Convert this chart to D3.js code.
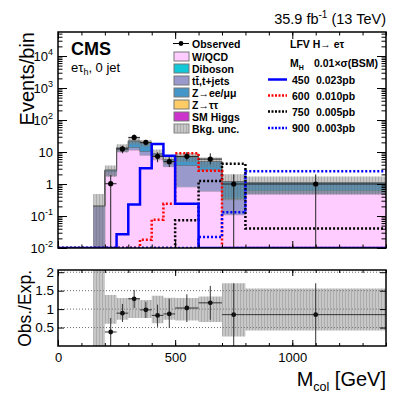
<!DOCTYPE html>
<html>
<head>
<meta charset="utf-8">
<script src="https://cdn.jsdelivr.net/npm/d3@7"></script>
<style>
  body { margin: 0; background: #fff; }
  svg { font-family: "Liberation Sans", Arial, Helvetica, sans-serif; }
</style>
</head>
<body>
<svg width="407" height="395"></svg>
<script>
// bins in M_col [GeV]
var binEdges = [150, 200, 250, 300, 350, 400, 450, 500, 600, 700, 800, 1400];

// backgrounds (events/bin), stacked bottom -> top
var wqcd    = [0,     1.85, 10.5, 11.6, 8.0,  7.2,  3.5,  0.82, 0.6,  0.11, 0.5];
var ttbar   = [0.2,   0.6,  1.5,  2.4,  2.5,  0.8,  1.5,  3.0,  2.2,  0.24, 0.13];
var diboson = [0.004, 0.02, 0.05, 0.08, 0.08, 0.05, 0.04, 0.06, 0.05, 0.02, 0.02];
var zll     = [0,     0.25, 1.4,  8.0,  8.5,  0.8,  0.7,  3.2,  2.2,  0.82, 0.45];
var ztt     = [0,     0.01, 0.03, 0.05, 0.04, 0.02, 0.02, 0.02, 0.01, 0.005, 0.005];
var smh     = [0,     0.005,0.01, 0.02, 0.02, 0.01, 0.01, 0.01, 0.005, 0.002, 0.002];

// relative background uncertainty (lo / hi, as fraction of total)
var uncLo = [0,   0.60, 0.71, 0.76, 0.76, 0.62, 0.71, 0.69, 0.65, 0.26, 0.42];
var uncHi = [2.4, 1.38, 1.30, 1.30, 1.25, 1.36, 1.31, 1.30, 1.34, 1.70, 1.56];

// signals, 0.01 x sigma(BSM)
var sig450 = [0, 0, 0.027, 0.23, 3.1, 17.8, 7.7, 0.24, 0, 0, 0];
var sig600 = [0, 0, 0, 0, 0.018, 0.077, 0.24, 9.1, 2.6, 0, 0];
var sig750 = [0, 0, 0, 0, 0, 0, 0, 0.074, 1.23, 4.3, 0.041];
var sig900 = [0, 0, 0, 0, 0, 0, 0, 0, 0.022, 0.13, 2.5];

// observed
var obsX   = [225, 275, 325, 375, 425, 475, 550, 650, 750, 1100];
var obsXlo = [200, 250, 300, 350, 400, 450, 500, 600, 700, 800];
var obsXhi = [250, 300, 350, 400, 450, 500, 600, 700, 800, 1400];
var obsY   = [1.02, 12.5, 28.6, 20, 7.3, 5.0, 7.3, 6.0, 1.0, 1.0];
var obsLo  = [0.01, 9.1, 23, 16, 4.8, 3.4, 5.4, 4.1, 0.01, 0.01];
var obsHi  = [1.9, 15.8, 35, 24, 9.8, 6.9, 10, 9.1, 2.0, 2.0];

// ratio
var ratioY  = [0.38, 0.89, 1.28, 0.98, 0.83, 0.87, 1.03, 1.17, 0.85, 0.85];
var ratioLo = [0, 0.65, 1.03, 0.76, 0.52, 0.49, 0.65, 0.71, 0, 0];
var ratioHi = [0.76, 1.14, 1.52, 1.20, 1.12, 1.28, 1.40, 1.63, 1.70, 1.70];

var yTicks = [1e-2, 1e-1, 1, 10, 1e2, 1e3, 1e4];
var xTicks = [0, 500, 1000];
var ratioTicks = [0.5, 1, 1.5, 2];

var bkgKeys   = ["wqcd", "tt", "vv", "zll", "ztt", "smh"];
var bkgColors = { wqcd: "#ffccff", tt: "#9999cc", vv: "#12c8d6", zll: "#4496c8", ztt: "#ffcc66", smh: "#cc33cc" };

var svg = d3.select("svg");
var L = 58, R = 386, T = 32, B = 248, RT = 270, RB = 346;

var x = d3.scaleLinear().domain([0, 1400]).range([L, R]);
var y = d3.scaleLog().domain([0.01, Math.pow(10, 4.75)]).range([B, T]).clamp(true);
var yr = d3.scaleLinear().domain([0, 2.06]).range([RB, RT]).clamp(true);

var defs = svg.append("defs");
var pat = defs.append("pattern").attr("id", "hatch").attr("patternUnits", "userSpaceOnUse")
  .attr("width", 3).attr("height", 3);
pat.append("rect").attr("width", 3).attr("height", 3).attr("fill", "rgba(130,130,130,0.45)");
pat.append("line").attr("x1", 0.5).attr("x2", 0.5).attr("y1", 0).attr("y2", 3)
  .attr("stroke", "rgba(90,90,90,0.25)").attr("stroke-width", 1);
defs.append("clipPath").attr("id", "clipTop").append("rect")
  .attr("x", L).attr("y", T).attr("width", R - L).attr("height", B - T);
defs.append("clipPath").attr("id", "clipBot").append("rect")
  .attr("x", L).attr("y", RT).attr("width", R - L).attr("height", RB - RT);

// ---------- upper panel ----------
var rows = binEdges.slice(0, -1).map(function(e, i) {
  return { edge: e, wqcd: wqcd[i], tt: ttbar[i], vv: diboson[i], zll: zll[i], ztt: ztt[i], smh: smh[i] };
});
var stack = d3.stack().keys(bkgKeys)(rows);

function stepPts(vals) {
  var p = vals.map(function(v, i) { return { x: binEdges[i], v: v }; });
  p.push({ x: binEdges[binEdges.length - 1], v: vals[vals.length - 1] });
  return p;
}

var gTop = svg.append("g").attr("clip-path", "url(#clipTop)");

var area = d3.area().curve(d3.curveStepAfter)
  .x(function(d) { return x(d.x); })
  .y0(function(d) { return y(Math.max(d.lo, 0.01)); })
  .y1(function(d) { return y(Math.max(d.hi, 0.01)); });
var topLine = d3.line().curve(d3.curveStepAfter)
  .x(function(d) { return x(d.x); })
  .y(function(d) { return y(Math.max(d.hi, 0.01)); });

stack.forEach(function(s) {
  var pts = s.map(function(d, i) { return { x: binEdges[i], lo: d[0], hi: d[1] }; });
  pts.push({ x: binEdges[binEdges.length - 1], lo: pts[pts.length - 1].lo, hi: pts[pts.length - 1].hi });
  gTop.append("path").attr("d", area(pts)).attr("fill", bkgColors[s.key]);
  gTop.append("path").attr("d", topLine(pts)).attr("fill", "none")
    .attr("stroke", "#555").attr("stroke-width", 0.8).attr("stroke-opacity", 0.7);
});

// uncertainty band
var total = rows.map(function(r) { return r.wqcd + r.tt + r.vv + r.zll + r.ztt + r.smh; });
var uncPts = total.map(function(t, i) { return { x: binEdges[i], lo: t * uncLo[i], hi: t * uncHi[i] }; });
uncPts.push({ x: 1400, lo: uncPts[uncPts.length - 1].lo, hi: uncPts[uncPts.length - 1].hi });
gTop.append("path").attr("d", area(uncPts)).attr("fill", "url(#hatch)");

// signals
var sigLine = d3.line().curve(d3.curveStepAfter)
  .x(function(d) { return x(d.x); })
  .y(function(d) { return y(Math.max(d.v, 0.01)); });
function sigPts(vals) { return [{ x: 0, v: 0 }].concat(stepPts(vals)); }
var signals = [
  { vals: sig750, color: "#000", dash: "2,2" },
  { vals: sig600, color: "#ff0000", dash: "2,2" },
  { vals: sig450, color: "#0000ff", dash: null },
  { vals: sig900, color: "#0000ff", dash: "2,2" }
];
signals.forEach(function(s) {
  gTop.append("path").attr("d", sigLine(sigPts(s.vals))).attr("fill", "none")
    .attr("stroke", s.color).attr("stroke-width", 2.5)
    .attr("stroke-dasharray", s.dash);
});

// observed
var obs = gTop.append("g");
obsX.forEach(function(v, i) {
  obs.append("line").attr("x1", x(obsXlo[i])).attr("x2", x(obsXhi[i]))
    .attr("y1", y(obsY[i])).attr("y2", y(obsY[i])).attr("stroke", "#222").attr("stroke-width", 1);
  obs.append("line").attr("x1", x(v)).attr("x2", x(v))
    .attr("y1", y(obsLo[i])).attr("y2", y(obsHi[i])).attr("stroke", "#222").attr("stroke-width", 1);
  obs.append("circle").attr("cx", x(v)).attr("cy", y(obsY[i])).attr("r", 2.6).attr("fill", "#000");
});

// axes upper
var minorY = [];
for (var e = -2; e <= 4; e++) for (var m = 2; m <= 9; m++) {
  var mv = m * Math.pow(10, e); if (mv < Math.pow(10, 4.75)) minorY.push(mv);
}
var minorX = d3.range(0, 1401, 100);

function styleAxis(g) { g.select(".domain").remove(); g.selectAll("line").attr("stroke", "#000"); }

svg.append("g").attr("transform", "translate(" + L + ",0)")
  .call(d3.axisLeft(y).tickValues(yTicks).tickSize(-9).tickFormat(""))
  .call(styleAxis);
svg.append("g").attr("transform", "translate(" + L + ",0)")
  .call(d3.axisLeft(y).tickValues(minorY).tickSize(-4.5).tickFormat(""))
  .call(styleAxis);
svg.append("g").attr("transform", "translate(" + R + ",0)")
  .call(d3.axisRight(y).tickValues(yTicks).tickSize(-9).tickFormat(""))
  .call(styleAxis);
svg.append("g").attr("transform", "translate(" + R + ",0)")
  .call(d3.axisRight(y).tickValues(minorY).tickSize(-4.5).tickFormat(""))
  .call(styleAxis);
[[B, d3.axisBottom], [T, d3.axisTop]].forEach(function(p) {
  svg.append("g").attr("transform", "translate(0," + p[0] + ")")
    .call(p[1](x).tickValues(xTicks).tickSize(-7).tickFormat("")).call(styleAxis);
  svg.append("g").attr("transform", "translate(0," + p[0] + ")")
    .call(p[1](x).tickValues(minorX).tickSize(-3.5).tickFormat("")).call(styleAxis);
});

// y tick labels with exponents
var yl = svg.append("g").attr("font-size", 13).attr("text-anchor", "end");
yTicks.forEach(function(t) {
  var ex = Math.round(Math.log10(t));
  var tx = yl.append("text").attr("x", L - 5).attr("y", y(t) + 5);
  if (ex === 0) tx.text("1");
  else if (ex === 1) tx.text("10");
  else {
    tx.append("tspan").text("10");
    tx.append("tspan").attr("font-size", 9).attr("dy", -6).text(ex);
  }
});

svg.append("rect").attr("x", L).attr("y", T).attr("width", R - L).attr("height", B - T)
  .attr("fill", "none").attr("stroke", "#000").attr("stroke-width", 1.5);

// ---------- ratio panel ----------
var bot = svg.append("g").attr("clip-path", "url(#clipBot)");
ratioTicks.forEach(function(t) {
  bot.append("line").attr("x1", L).attr("x2", R).attr("y1", yr(t)).attr("y2", yr(t))
    .attr("stroke", "#444").attr("stroke-width", 0.8).attr("stroke-dasharray", "1,2");
});
var rArea = d3.area().curve(d3.curveStepAfter)
  .x(function(d) { return x(d.x); })
  .y0(function(d) { return yr(d.lo); })
  .y1(function(d) { return yr(d.hi); });
var rBand = uncLo.map(function(v, i) { return { x: binEdges[i], lo: v, hi: uncHi[i] }; });
rBand.push({ x: 1400, lo: uncLo[uncLo.length - 1], hi: uncHi[uncHi.length - 1] });
bot.append("path").attr("d", rArea(rBand)).attr("fill", "url(#hatch)");

obsX.forEach(function(v, i) {
  bot.append("line").attr("x1", x(obsXlo[i])).attr("x2", x(obsXhi[i]))
    .attr("y1", yr(ratioY[i])).attr("y2", yr(ratioY[i])).attr("stroke", "#333").attr("stroke-width", 1);
  bot.append("line").attr("x1", x(v)).attr("x2", x(v))
    .attr("y1", yr(ratioLo[i])).attr("y2", yr(ratioHi[i])).attr("stroke", "#333").attr("stroke-width", 1);
  bot.append("circle").attr("cx", x(v)).attr("cy", yr(ratioY[i])).attr("r", 2.4).attr("fill", "#111");
});

svg.append("g").attr("transform", "translate(" + L + ",0)")
  .call(d3.axisLeft(yr).tickValues(ratioTicks).tickSize(-6).tickPadding(4).tickFormat(d3.format("")))
  .call(styleAxis)
  .call(function(g) { g.selectAll("text").attr("font-size", 13.5).attr("fill", "#000").attr("font-family", null); });
svg.append("g").attr("transform", "translate(" + R + ",0)")
  .call(d3.axisRight(yr).tickValues(ratioTicks).tickSize(-6).tickFormat(""))
  .call(styleAxis);
svg.append("g").attr("transform", "translate(0," + RB + ")")
  .call(d3.axisBottom(x).tickValues(xTicks).tickSize(-6).tickPadding(7).tickFormat(d3.format("")))
  .call(styleAxis)
  .call(function(g) { g.selectAll("text").attr("font-size", 13).attr("fill", "#000").attr("font-family", null); });
svg.append("g").attr("transform", "translate(0," + RB + ")")
  .call(d3.axisBottom(x).tickValues(minorX).tickSize(-3).tickFormat(""))
  .call(styleAxis);
svg.append("g").attr("transform", "translate(0," + RT + ")")
  .call(d3.axisTop(x).tickValues(xTicks).tickSize(-6).tickFormat(""))
  .call(styleAxis);
svg.append("g").attr("transform", "translate(0," + RT + ")")
  .call(d3.axisTop(x).tickValues(minorX).tickSize(-3).tickFormat(""))
  .call(styleAxis);

svg.append("rect").attr("x", L).attr("y", RT).attr("width", R - L).attr("height", RB - RT)
  .attr("fill", "none").attr("stroke", "#000").attr("stroke-width", 1.5);

// ---------- labels ----------
svg.append("text").attr("transform", "translate(34," + T + ") rotate(-90)")
  .attr("text-anchor", "end").attr("font-size", 20).text("Events/bin");
svg.append("text").attr("transform", "translate(31," + RT + ") rotate(-90)")
  .attr("text-anchor", "end").attr("font-size", 17.5).text("Obs./Exp.");

var xt = svg.append("text").attr("x", R).attr("y", 386).attr("text-anchor", "end").attr("font-size", 20);
xt.append("tspan").text("M");
xt.append("tspan").attr("font-size", 12.5).attr("dy", 5).text("col");
xt.append("tspan").attr("dy", -5).text(" [GeV]");

var lumi = svg.append("text").attr("x", R).attr("y", 24).attr("text-anchor", "end").attr("font-size", 14.5);
lumi.append("tspan").text("35.9 fb");
lumi.append("tspan").attr("font-size", 10).attr("dy", -6).text("-1");
lumi.append("tspan").attr("dy", 6).text(" (13 TeV)");

svg.append("text").attr("x", 71).attr("y", 55).attr("font-size", 18).attr("font-weight", "bold").text("CMS");
var ch = svg.append("text").attr("x", 71).attr("y", 72).attr("font-size", 13);
ch.append("tspan").text("e\u03c4");
ch.append("tspan").attr("font-size", 9).attr("dy", 3).text("h");
ch.append("tspan").attr("dy", -3).text(", 0 jet");

// legend, left column
var lg = svg.append("g").attr("font-size", 10.5).attr("font-weight", "bold");
var legY = [43.5, 56.5, 68.5, 80.5, 92.5, 104.5, 116.5, 128.5];
lg.append("line").attr("x1", 173).attr("x2", 189).attr("y1", legY[0]).attr("y2", legY[0]).attr("stroke", "#000");
lg.append("circle").attr("cx", 181).attr("cy", legY[0]).attr("r", 2.4).attr("fill", "#000");
lg.append("text").attr("x", 192).attr("y", legY[0] + 4).text("Observed");
var legOrder = ["wqcd", "vv", "tt", "zll", "ztt", "smh"];
var legLabels = { wqcd: "W/QCD", vv: "Diboson", tt: "tt\u0304,t+jets", zll: "Z\u2192ee/\u03bc\u03bc", ztt: "Z\u2192\u03c4\u03c4", smh: "SM Higgs" };
legOrder.forEach(function(k, i) {
  var yy = legY[i + 1];
  lg.append("rect").attr("x", 174).attr("y", yy - 4.5).attr("width", 15).attr("height", 9)
    .attr("fill", bkgColors[k]).attr("stroke", "#777").attr("stroke-width", 1);
  lg.append("text").attr("x", 192).attr("y", yy + 4).text(legLabels[k]);
});
lg.append("rect").attr("x", 174).attr("y", legY[7] - 4.5).attr("width", 15).attr("height", 9)
  .attr("fill", "url(#hatch)").attr("stroke", "#888").attr("stroke-width", 1);
lg.append("text").attr("x", 192).attr("y", legY[7] + 4).text("Bkg. unc.");

// legend, right column
var rg = svg.append("g").attr("font-size", 10.5).attr("font-weight", "bold");
rg.append("text").attr("x", 290).attr("y", 47.5).text("LFV H\u2192 e\u03c4");
var mh = rg.append("text").attr("x", 290).attr("y", 67);
mh.append("tspan").text("M");
mh.append("tspan").attr("font-size", 7).attr("dy", 3).text("H");
mh.append("tspan").attr("dy", -3).attr("x", 314).text("0.01\u00d7\u03c3(BSM)");
var sigLeg = [
  { m: "450", xs: "0.023pb", color: "#0000ff", dash: null, yy: 79.5 },
  { m: "600", xs: "0.010pb", color: "#ff0000", dash: "2,1.5", yy: 95.5 },
  { m: "750", xs: "0.005pb", color: "#000", dash: "2,1.5", yy: 111.5 },
  { m: "900", xs: "0.003pb", color: "#0000ff", dash: "2,1.5", yy: 128 }
];
sigLeg.forEach(function(s) {
  rg.append("line").attr("x1", 268).attr("x2", 287).attr("y1", s.yy).attr("y2", s.yy)
    .attr("stroke", s.color).attr("stroke-width", 2.5).attr("stroke-dasharray", s.dash);
  rg.append("text").attr("x", 292).attr("y", s.yy + 4).text(s.m);
  rg.append("text").attr("x", 316).attr("y", s.yy + 4).text(s.xs);
});
</script>
</body>
</html>
